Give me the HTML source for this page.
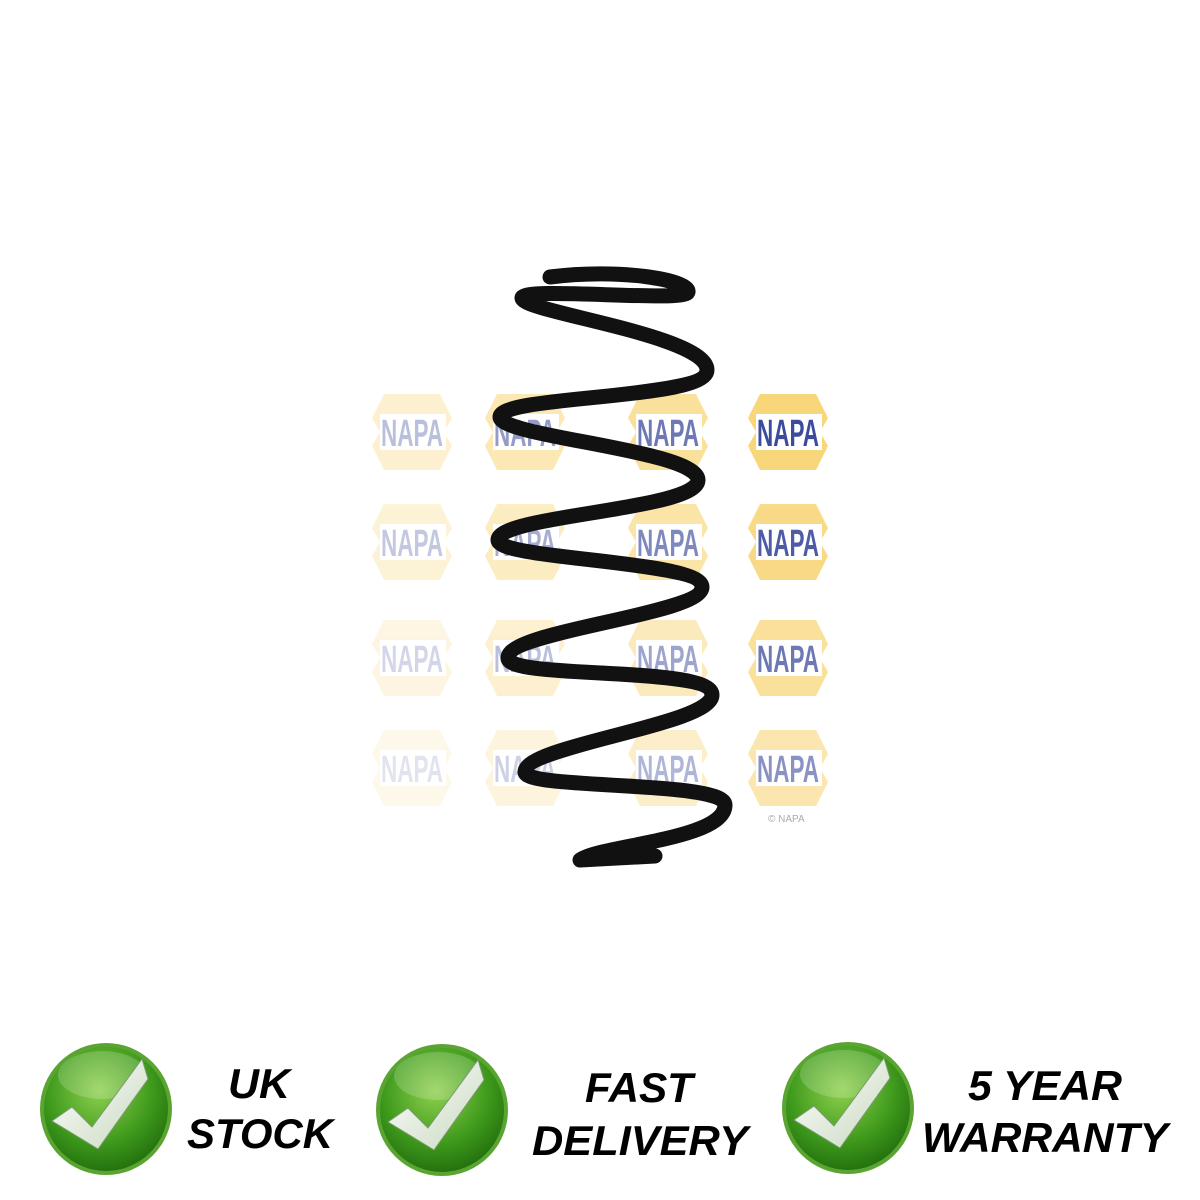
<!DOCTYPE html>
<html><head><meta charset="utf-8"><style>
html,body{margin:0;padding:0;background:#fff;}
svg{display:block;}
</style></head><body>
<svg width="1200" height="1200" viewBox="0 0 1200 1200" xmlns="http://www.w3.org/2000/svg">
<defs>
<g id="napa">
<polygon points="-28,-38 28,-38 40,-14 32,0 40,14 28,38 -28,38 -40,14 -32,0 -40,-14" fill="#f8d67a"/>
<rect x="-32" y="-18" width="66" height="36" fill="#fff"/>
<text x="0" y="14" text-anchor="middle" font-family="Liberation Sans Narrow, Liberation Sans, sans-serif" font-weight="bold" font-size="38" fill="#3d4b9c" textLength="62" lengthAdjust="spacingAndGlyphs">NAPA</text>
</g>
<radialGradient id="gg" cx="0.45" cy="0.35" r="0.7">
<stop offset="0" stop-color="#8fd14f"/><stop offset="0.6" stop-color="#3f9a1c"/><stop offset="1" stop-color="#1f6a0c"/>
</radialGradient>
<linearGradient id="cw" x1="0" y1="0" x2="1" y2="1"><stop offset="0" stop-color="#ffffff"/><stop offset="1" stop-color="#c9d9c0"/></linearGradient>
<g id="chk">
<circle r="66" fill="#5aa532"/>
<circle r="62" fill="url(#gg)"/>
<ellipse cx="-4" cy="-34" rx="44" ry="24" fill="#fff" opacity="0.18"/>
<polygon points="-54,12 -34,-2 -14,18 36,-50 42,-30 -8,40" fill="url(#cw)" stroke="#7a9a70" stroke-width="1"/>
</g>
</defs>
<g>
<use href="#napa" x="412" y="432" opacity="0.35"/><use href="#napa" x="525" y="432" opacity="0.55"/><use href="#napa" x="668" y="432" opacity="0.75"/><use href="#napa" x="788" y="432"/>
<use href="#napa" x="412" y="542" opacity="0.3"/><use href="#napa" x="525" y="542" opacity="0.45"/><use href="#napa" x="668" y="542" opacity="0.65"/><use href="#napa" x="788" y="542" opacity="0.9"/>
<use href="#napa" x="412" y="658" opacity="0.22"/><use href="#napa" x="525" y="658" opacity="0.35"/><use href="#napa" x="668" y="658" opacity="0.5"/><use href="#napa" x="788" y="658" opacity="0.75"/>
<use href="#napa" x="412" y="768" opacity="0.15"/><use href="#napa" x="525" y="768" opacity="0.25"/><use href="#napa" x="668" y="768" opacity="0.4"/><use href="#napa" x="788" y="768" opacity="0.6"/>
<text x="768" y="822" font-family="Liberation Sans, sans-serif" font-size="10" fill="#aaa">© NAPA</text>
</g>
<path d="M550,277 C620,268 690,280 688,292 C686,303 522,286 522,298
C522,312 707,335 707,370
C707,400 500,395 500,417
C500,437 698,450 698,480
C698,510 498,515 498,540
C498,560 702,560 702,587
C702,615 508,630 508,658
C508,680 712,665 712,695
C712,725 525,745 525,772
C525,790 725,780 725,805
C725,840 600,845 580,860 L655,856" fill="none" stroke="#111" stroke-width="15" stroke-linecap="round" stroke-linejoin="round"/>
<use href="#chk" x="106" y="1109"/>
<use href="#chk" x="442" y="1110"/>
<use href="#chk" x="848" y="1108"/>
<g font-family="Liberation Sans, sans-serif" font-weight="bold" font-style="italic" font-size="42" fill="#000" text-anchor="middle">
<text x="259" y="1098" textLength="62" lengthAdjust="spacingAndGlyphs">UK</text>
<text x="260" y="1148" textLength="146" lengthAdjust="spacingAndGlyphs">STOCK</text>
<text x="639" y="1102" textLength="108" lengthAdjust="spacingAndGlyphs">FAST</text>
<text x="640" y="1155" textLength="216" lengthAdjust="spacingAndGlyphs">DELIVERY</text>
<text x="1045" y="1100" textLength="154" lengthAdjust="spacingAndGlyphs">5 YEAR</text>
<text x="1045" y="1152" textLength="246" lengthAdjust="spacingAndGlyphs">WARRANTY</text>
</g>
</svg>
</body></html>
